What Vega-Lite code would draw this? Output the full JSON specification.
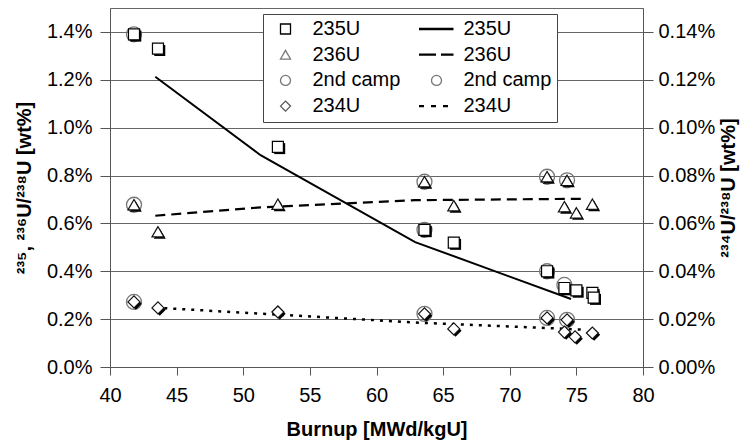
{
  "$schema": "https://vega.github.io/schema/vega-lite/v6.json",
  "width": 533,
  "height": 359,
  "autosize": "none",
  "padding": {"left": 110, "top": 8, "right": 107, "bottom": 80},
  "background": "#ffffff",
  "config": {
    "font": "Liberation Sans",
    "view": {"stroke": "#666666", "strokeWidth": 1},
    "axis": {
      "labelFont": "Liberation Sans", "labelFontSize": 20, "labelColor": "#000000",
      "titleFont": "Liberation Sans", "titleFontSize": 20, "titleFontWeight": "bold", "titleColor": "#000000",
      "domainColor": "#555555", "tickColor": "#555555", "gridColor": "#666666", "gridWidth": 1, "labelFlush": false
    }
  },
  "encoding": {
    "x": {
      "field": "b", "type": "quantitative",
      "scale": {"domain": [40, 80]},
      "axis": {"values": [40, 45, 50, 55, 60, 65, 70, 75, 80], "title": "Burnup [MWd/kgU]", "grid": false, "tickSize": 8, "labelPadding": 10, "titlePadding": 14}
    }
  },
  "layer": [
    {
      "encoding": {
        "y": {
          "field": "v", "type": "quantitative",
          "scale": {"domain": [0, 1.5]},
          "axis": {"orient": "left", "values": [0, 0.2, 0.4, 0.6, 0.8, 1, 1.2, 1.4], "format": ".1f", "labelExpr": "datum.label + '%'", "grid": true, "title": "²³⁵, ²³⁶U/²³⁸U [wt%]", "tickSize": 10, "labelPadding": 8, "titlePadding": 12}
        }
      },
      "layer": [
        {
          "data": {"values": [{"b": 43.4, "v": 1.213}, {"b": 51.3, "v": 0.885}, {"b": 62.9, "v": 0.522}, {"b": 74.6, "v": 0.284}]},
          "mark": {"type": "line", "color": "#000000", "strokeWidth": 2}
        },
        {
          "data": {"values": [{"b": 43.4, "v": 0.632}, {"b": 51.3, "v": 0.667}, {"b": 62.9, "v": 0.697}, {"b": 75.6, "v": 0.703}]},
          "mark": {"type": "line", "color": "#000000", "strokeWidth": 2.2, "strokeDash": [10, 6]}
        },
        {
          "data": {"values": [{"b": 41.8, "v": 1.39}, {"b": 41.8, "v": 0.678}, {"b": 63.6, "v": 0.573}, {"b": 63.6, "v": 0.774}, {"b": 72.8, "v": 0.40}, {"b": 72.8, "v": 0.795}, {"b": 74.1, "v": 0.343}, {"b": 74.3, "v": 0.78}]},
          "mark": {"type": "point", "shape": "circle", "size": 225, "filled": false, "stroke": "#777777", "strokeWidth": 1.3, "opacity": 1}
        },
        {
          "data": {"values": [{"b": 41.8, "v": 1.39}, {"b": 43.6, "v": 1.33}, {"b": 52.6, "v": 0.92}, {"b": 63.6, "v": 0.573}, {"b": 65.8, "v": 0.52}, {"b": 72.8, "v": 0.40}, {"b": 74.1, "v": 0.33}, {"b": 75.0, "v": 0.32}, {"b": 76.2, "v": 0.31}, {"b": 76.3, "v": 0.29}]},
          "layer": [
            {"mark": {"type": "point", "shape": "square", "size": 121, "filled": true, "fill": "#000000", "strokeWidth": 0, "opacity": 1, "xOffset": 1.8, "yOffset": 1.8}},
            {"mark": {"type": "point", "shape": "square", "size": 121, "filled": true, "fill": "#ffffff", "stroke": "#000000", "strokeWidth": 1.2, "opacity": 1}}
          ]
        },
        {
          "data": {"values": [{"b": 41.8, "v": 0.678}, {"b": 43.6, "v": 0.565}, {"b": 52.6, "v": 0.68}, {"b": 63.6, "v": 0.774}, {"b": 65.8, "v": 0.674}, {"b": 72.8, "v": 0.795}, {"b": 74.3, "v": 0.78}, {"b": 74.1, "v": 0.67}, {"b": 75.0, "v": 0.644}, {"b": 76.2, "v": 0.68}]},
          "layer": [
            {"mark": {"type": "point", "shape": "triangle-up", "size": 144, "filled": true, "fill": "#000000", "strokeWidth": 0, "opacity": 1, "xOffset": 1.8, "yOffset": 1.8}},
            {"mark": {"type": "point", "shape": "triangle-up", "size": 144, "filled": true, "fill": "#ffffff", "stroke": "#111111", "strokeWidth": 1.2, "opacity": 1}}
          ]
        },
        {
          "data": {"values": []},
          "mark": {"type": "point", "filled": false, "opacity": 1},
          "encoding": {
            "shape": {
              "field": "k", "type": "nominal",
              "scale": {
                "domain": ["235U_m", "236U_m", "2nd camp_m", "234U_m", "235U_l", "236U_l", "2nd camp_l", "234U_l"],
                "range": ["square", "triangle-up", "circle", "diamond", "M-3.5,-0.1H3.4M-3.5,0.1H3.4", "M-3.5,-0.1H-0.1M-3.5,0.1H-0.1M0.9,-0.1H3.4M0.9,0.1H3.4", "circle", "M-3.5,-0.1H-2.5M-3.5,0.1H-2.5M-1.1,-0.1H-0.1M-1.1,0.1H-0.1M1.3,-0.1H2.3M1.3,0.1H2.3"]
              },
              "legend": {
                "title": null, "orient": "none", "legendX": 153, "legendY": 6,
                "columns": 2, "columnPadding": 15, "rowPadding": 5.7, "padding": 5,
                "labelFont": "Liberation Sans", "labelFontSize": 20, "labelColor": "#000000",
                "labelOffset": 17, "symbolOffset": 7.5, "symbolSize": 100, "symbolStrokeWidth": 1.3,
                "strokeColor": "#444444", "fillColor": "#ffffff", "cornerRadius": 0,
                "labelExpr": "split(datum.label, '_')[0]"
              }
            },
            "stroke": {
              "field": "k", "type": "nominal",
              "scale": {
                "domain": ["235U_m", "236U_m", "2nd camp_m", "234U_m", "235U_l", "236U_l", "2nd camp_l", "234U_l"],
                "range": ["#000000", "#777777", "#777777", "#555555", "#000000", "#000000", "#777777", "#000000"]
              }
            }
          }
        }
      ]
    },
    {
      "encoding": {
        "y": {
          "field": "v", "type": "quantitative",
          "scale": {"domain": [0, 0.15]},
          "axis": {"orient": "right", "values": [0, 0.02, 0.04, 0.06, 0.08, 0.1, 0.12, 0.14], "format": ".2f", "labelExpr": "datum.label + '%'", "grid": false, "title": "²³⁴U/²³⁸U [wt%]", "titleAngle": 270, "titleBaseline": "top", "tickSize": 10, "labelPadding": 5, "titlePadding": 4}
        }
      },
      "layer": [
        {
          "data": {"values": [{"b": 43.4, "v": 0.0248}, {"b": 51.3, "v": 0.0223}, {"b": 62.9, "v": 0.0186}, {"b": 75.6, "v": 0.0156}]},
          "mark": {"type": "line", "color": "#000000", "strokeWidth": 2.5, "strokeDash": [3, 6]}
        },
        {
          "data": {"values": [{"b": 41.8, "v": 0.0272}, {"b": 63.6, "v": 0.0222}, {"b": 72.8, "v": 0.0205}, {"b": 74.3, "v": 0.0197}]},
          "mark": {"type": "point", "shape": "circle", "size": 225, "filled": false, "stroke": "#777777", "strokeWidth": 1.3, "opacity": 1}
        },
        {
          "data": {"values": [{"b": 41.8, "v": 0.0272}, {"b": 43.6, "v": 0.0247}, {"b": 52.6, "v": 0.023}, {"b": 63.6, "v": 0.0222}, {"b": 65.8, "v": 0.0159}, {"b": 72.8, "v": 0.0205}, {"b": 74.3, "v": 0.0197}, {"b": 74.1, "v": 0.0146}, {"b": 74.9, "v": 0.0126}, {"b": 76.2, "v": 0.0142}]},
          "layer": [
            {"mark": {"type": "point", "shape": "diamond", "size": 144, "filled": true, "fill": "#000000", "strokeWidth": 0, "opacity": 1, "xOffset": 1.8, "yOffset": 1.8}},
            {"mark": {"type": "point", "shape": "diamond", "size": 144, "filled": true, "fill": "#ffffff", "stroke": "#111111", "strokeWidth": 1.2, "opacity": 1}}
          ]
        }
      ]
    }
  ],
  "resolve": {"scale": {"y": "independent"}}
}
